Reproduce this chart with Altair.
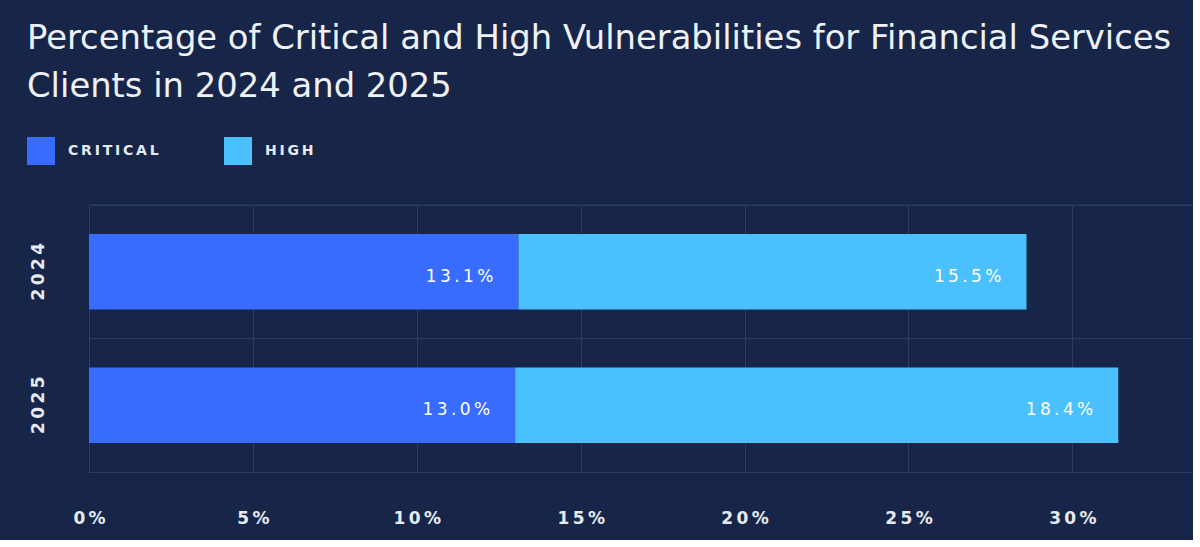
import altair as alt
import pandas as pd

# Share of critical and high vulnerabilities, financial services clients
years = ["2024", "2025"]
categories = ["Critical", "High"]
critical = [13.1, 13.0]
high = [15.5, 18.4]
x_ticks = [0, 5, 10, 15, 20, 25, 30]

BG = "#172648"
GRID = "#2d3c5e"
COLORS = ["#386BFF", "#4AC0FF"]
TEXT = "#e6eaf2"
THIN = "\u2009"  # thin space used as letter spacing


def spaced(s):
    return THIN.join(s)


rows = []
for i, yr in enumerate(years):
    for j, (cat, vals) in enumerate(zip(categories, [critical, high])):
        rows.append({"year": yr, "category": cat, "order": j,
                     "value": vals[i], "label": spaced(f"{vals[i]:.1f}%")})
df = pd.DataFrame(rows)
year_df = pd.DataFrame({"year": years})

y_scale = alt.Scale(domain=years, paddingInner=0, paddingOuter=0)
x_scale = alt.Scale(domain=[0, 33.68], nice=False, zero=True)

y_axis = alt.Axis(
    title=None, ticks=False, tickSize=0, domain=False, grid=False,
    labelAngle=270, labelAlign="center", labelBaseline="middle",
    labelPadding=51, labelFont="DejaVu Sans", labelFontSize=17,
    labelFontWeight="bold", labelColor=TEXT,
    labelExpr=f"join(split(datum.label, ''), '{THIN}')",
)
x_axis = alt.Axis(
    title=None, values=x_ticks, ticks=False, tickSize=0, domain=False,
    grid=True, gridColor=GRID, gridWidth=1, labelFlush=False,
    labelBaseline="middle", labelPadding=46, labelFont="DejaVu Sans",
    labelFontSize=17, labelFontWeight="bold", labelColor=TEXT,
    labelExpr=f"join(split(datum.value + '%', ''), '{THIN}')",
)

# band boundary lines between the two years
band_lines = alt.Chart(year_df).mark_rule(color=GRID, strokeWidth=1).encode(
    y=alt.Y("year:N", bandPosition=0, scale=y_scale, axis=y_axis),
)

stacked = alt.Chart(df).transform_stack(
    stack="value", groupby=["year"], as_=["x0", "x1"],
    sort=[alt.SortField("order", order="ascending")],
)

bars = stacked.mark_bar(height=alt.RelativeBandSize(0.566), strokeWidth=0).encode(
    y=alt.Y("year:N", scale=y_scale, axis=y_axis),
    x=alt.X("x0:Q", scale=x_scale, axis=x_axis),
    x2="x1:Q",
    color=alt.Color(
        "category:N",
        scale=alt.Scale(domain=categories, range=COLORS),
        legend=alt.Legend(
            title=None, orient="none", legendX=-62, legendY=-68,
            direction="horizontal", symbolType="square", symbolSize=784,
            symbolStrokeWidth=0, symbolOpacity=1,
            labelFont="DejaVu Sans", labelFontSize=14,
            labelFontWeight="bold", labelColor=TEXT, labelOffset=13,
            columnPadding=65,
            labelExpr=f"join(split(upper(datum.label), ''), '{THIN}')",
        ),
    ),
)

labels = stacked.mark_text(
    align="right", baseline="middle", dx=-25, dy=5,
    font="DejaVu Sans", fontSize=17, fontWeight="normal", color="#ffffff",
).encode(
    y=alt.Y("year:N", scale=y_scale, axis=y_axis),
    x=alt.X("x1:Q", scale=x_scale, axis=x_axis),
    text="label:N",
)

chart = alt.layer(band_lines, bars, labels).properties(
    width=1104,
    height=267,
    background=BG,
    padding={"left": 89, "top": 205, "right": 0, "bottom": 68},
    autosize=alt.AutoSizeParams(type="none"),
    title=alt.TitleParams(
        text=["Percentage of Critical and High Vulnerabilities for Financial Services",
              "Clients in 2024 and 2025"],
        anchor="start", frame="group", dx=-62, dy=-33, font="DejaVu Sans",
        fontSize=33.8, fontWeight="normal", color="#eef1f7", lineHeight=48,
        offset=0,
    ),
).configure_view(stroke=GRID, strokeWidth=1)

chart.save("out.html", embed_options={"renderer": "svg", "actions": False})
